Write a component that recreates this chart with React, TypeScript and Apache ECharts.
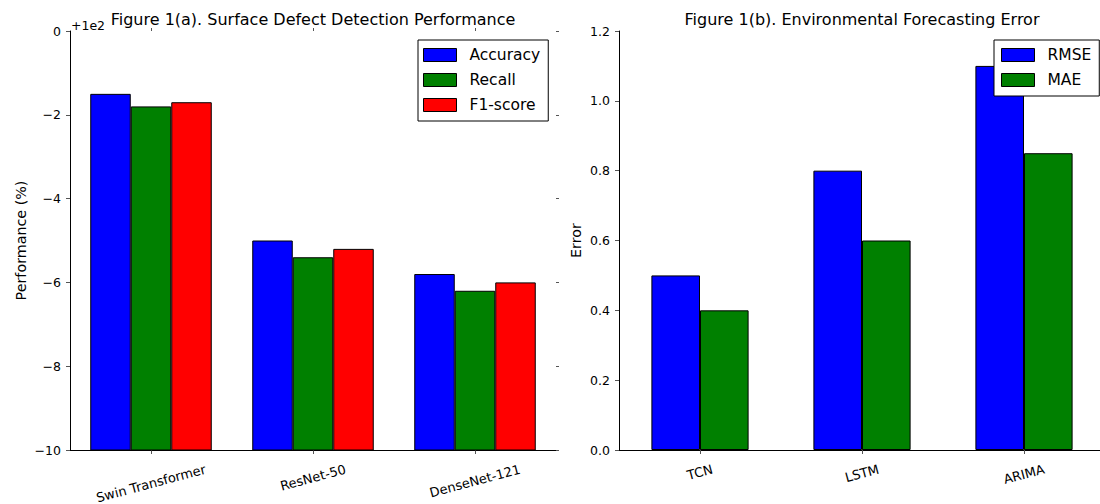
import React, { useEffect, useRef } from "react";
import * as echarts from "echarts";

const perfCategories = ["Swin Transformer", "ResNet-50", "DenseNet-121"];
const accuracy = [98.5, 95.0, 94.2];
const recall = [98.2, 94.6, 93.8];
const f1Score = [98.3, 94.8, 94.0];
const perfSeriesNames = ["Accuracy", "Recall", "F1-score"];
const perfOffsetText = "+1e2";

const errCategories = ["TCN", "LSTM", "ARIMA"];
const rmse = [0.5, 0.8, 1.1];
const mae = [0.4, 0.6, 0.85];
const errSeriesNames = ["RMSE", "MAE"];

const titles = [
  "Figure 1(a). Surface Defect Detection Performance",
  "Figure 1(b). Environmental Forecasting Error",
];
const yNames = ["Performance (%)", "Error"];

const FONT = "DejaVu Sans";
const TICK_FS = 12.5;
const XLAB_FS = 13;
const BLUE = "#0000ff";
const GREEN = "#008000";
const RED = "#ff0000";

export default function App() {
  const ref = useRef<HTMLDivElement>(null);

  useEffect(() => {
    if (!ref.current) return;
    document.body.style.overflow = "hidden";
    const chart = echarts.init(ref.current, null, { renderer: "svg" });

    const axisLine = { show: true, lineStyle: { color: "#000", width: 1 } };
    const tick = { show: true, length: 4, lineStyle: { color: "#555" } };

    const catAxis = (grid: number, data: string[], pos: "bottom" | "top") => ({
      type: "category",
      gridIndex: grid,
      position: pos,
      data,
      boundaryGap: true,
      axisLine: pos === "bottom" ? axisLine : { show: false },
      axisTick: { ...tick, alignWithLabel: true, length: pos === "bottom" ? 4 : 3 },
      axisLabel: { show: false },
      splitLine: { show: false },
    });

    const valAxis = (
      grid: number,
      min: number,
      max: number,
      interval: number,
      fmt: (v: number) => string,
      pos: "left" | "right",
      name?: string,
      gap?: number
    ) => ({
      type: "value",
      gridIndex: grid,
      position: pos,
      min,
      max,
      interval,
      name: pos === "left" ? name : undefined,
      nameLocation: "middle",
      nameGap: gap,
      nameTextStyle: { fontFamily: FONT, fontSize: 14.3, color: "#000" },
      axisLine: pos === "left" ? axisLine : { show: false },
      axisTick: { ...tick, length: pos === "left" ? 4 : 3 },
      axisLabel: {
        show: pos === "left",
        formatter: fmt,
        fontFamily: FONT,
        fontSize: TICK_FS,
        color: "#000",
        margin: 9,
      },
      splitLine: { show: false },
    });

    const perfFmt = (v: number) => String(Math.round(v - 100)).replace("-", "\u2212");
    const errFmt = (v: number) => v.toFixed(1);

    const barItem = (color: string) => ({ color, borderColor: "#000", borderWidth: 1 });

    const legendBase = {
      orient: "vertical",
      icon: "rect",
      itemWidth: 33,
      itemHeight: 13,
      itemGap: 9,
      borderColor: "#000",
      borderWidth: 1,
      borderRadius: 0,
      backgroundColor: "#fff",
      itemStyle: { borderColor: "#000", borderWidth: 1 },
      textStyle: {
        fontFamily: FONT,
        fontSize: 15.5,
        color: "#000",
        lineHeight: 16,
        padding: [0, 0, 0, 8],
      },
    };

    const option: any = {
      animation: false,
      textStyle: { fontFamily: FONT },
      title: [
        {
          text: titles[0],
          left: 313,
          textAlign: "center",
          top: 11,
          padding: 0,
          textStyle: { fontFamily: FONT, fontSize: 16, fontWeight: "normal", color: "#000" },
        },
        {
          text: titles[1],
          left: 862,
          textAlign: "center",
          top: 11,
          padding: 0,
          textStyle: { fontFamily: FONT, fontSize: 16, fontWeight: "normal", color: "#000" },
        },
      ],
      legend: [
        {
          ...legendBase,
          data: perfSeriesNames,
          left: 418,
          top: 40,
          padding: [7, 8, 8, 5],
        },
        {
          ...legendBase,
          data: errSeriesNames,
          left: 994,
          top: 40,
          padding: [7, 8, 8, 7],
        },
      ],
      grid: [
        { left: 70, top: 31, width: 486, height: 419 },
        { left: 619, top: 31, width: 486, height: 419 },
      ],
      xAxis: [
        catAxis(0, perfCategories, "bottom"),
        catAxis(0, perfCategories, "top"),
        catAxis(1, errCategories, "bottom"),
        catAxis(1, errCategories, "top"),
      ],
      yAxis: [
        valAxis(0, 90, 100, 2, perfFmt, "left", yNames[0], 42),
        valAxis(0, 90, 100, 2, perfFmt, "right"),
        valAxis(1, 0, 1.2, 0.2, errFmt, "left", yNames[1], 36),
        valAxis(1, 0, 1.2, 0.2, errFmt, "right"),
      ],
      series: [
        { name: perfSeriesNames[0], type: "bar", xAxisIndex: 0, yAxisIndex: 0, data: accuracy, barWidth: 40.5, barGap: "0%", itemStyle: barItem(BLUE) },
        { name: perfSeriesNames[1], type: "bar", xAxisIndex: 0, yAxisIndex: 0, data: recall, barWidth: 40.5, barGap: "0%", itemStyle: barItem(GREEN) },
        { name: perfSeriesNames[2], type: "bar", xAxisIndex: 0, yAxisIndex: 0, data: f1Score, barWidth: 40.5, barGap: "0%", itemStyle: barItem(RED) },
        { name: errSeriesNames[0], type: "bar", xAxisIndex: 2, yAxisIndex: 2, data: rmse, barWidth: 48.6, barGap: "0%", itemStyle: barItem(BLUE) },
        { name: errSeriesNames[1], type: "bar", xAxisIndex: 2, yAxisIndex: 2, data: mae, barWidth: 48.6, barGap: "0%", itemStyle: barItem(GREEN) },
      ],
    };

    chart.setOption(option);

    // rotated category labels, centred under the ticks like matplotlib
    const canvas = document.createElement("canvas");
    const ctx = canvas.getContext("2d")!;
    ctx.font = `${XLAB_FS}px "${FONT}"`;
    const ang = (15 * Math.PI) / 180;
    const graphics: any[] = [];
    const addLabels = (cats: string[], xi: number, yi: number, minVal: number) => {
      const yb = chart.convertToPixel({ yAxisIndex: yi } as any, minVal) as number;
      cats.forEach((c) => {
        const cx = chart.convertToPixel({ xAxisIndex: xi } as any, c) as number;
        const w = ctx.measureText(c).width;
        const h = XLAB_FS * 1.1;
        const top = yb + 12;
        const cy = top + (w / 2) * Math.sin(ang) + (h / 2) * Math.cos(ang);
        graphics.push({
          type: "text",
          x: cx,
          y: cy,
          rotation: ang,
          silent: true,
          style: {
            text: c,
            fontFamily: FONT,
            fontSize: XLAB_FS,
            fill: "#000",
            align: "center",
            verticalAlign: "middle",
            textAlign: "center",
            textVerticalAlign: "middle",
          },
        });
      });
    };
    addLabels(perfCategories, 0, 0, 90);
    addLabels(errCategories, 2, 2, 0);

    const yTop = chart.convertToPixel({ yAxisIndex: 0 } as any, 100) as number;
    const xLeft = chart.convertToPixel({ xAxisIndex: 0 } as any, perfCategories[0]) as number;
    graphics.push({
      type: "text",
      x: xLeft - 81 + 1,
      y: yTop - 6,
      silent: true,
      style: {
        text: perfOffsetText,
        fontFamily: FONT,
        fontSize: TICK_FS,
        fill: "#000",
        align: "left",
        verticalAlign: "middle",
        textAlign: "left",
        textVerticalAlign: "middle",
      },
    });
    chart.setOption({ graphic: graphics });

    return () => chart.dispose();
  }, []);

  return (
    <div
      ref={ref}
      style={{ position: "fixed", left: 0, top: 0, width: 1110, height: 504, background: "#fff" }}
    />
  );
}
